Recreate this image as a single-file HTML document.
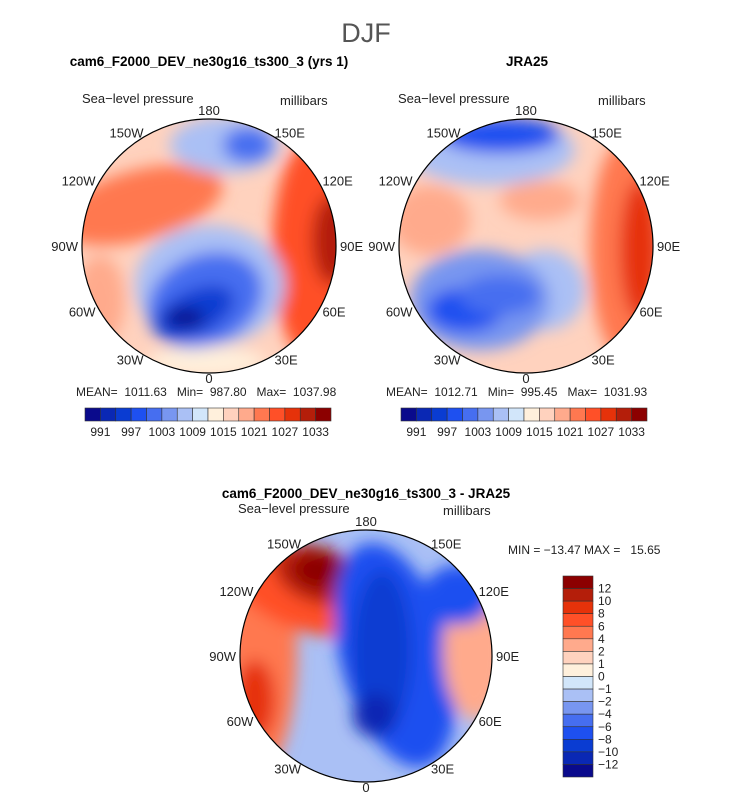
<!DOCTYPE html>
<html><head><meta charset="utf-8"><style>
body{margin:0;background:#fff;font-family:"Liberation Sans",sans-serif}
svg text{font-family:"Liberation Sans",sans-serif;white-space:pre}
</style></head><body>
<svg width="733" height="798" viewBox="0 0 733 798">
<defs>
<filter id="bl" x="-50%" y="-50%" width="200%" height="200%"><feGaussianBlur stdDeviation="8"/></filter>
<clipPath id="c1"><circle cx="209" cy="246" r="127"/></clipPath>
<clipPath id="c2"><circle cx="526" cy="246" r="127"/></clipPath>
<clipPath id="c3"><circle cx="366" cy="656" r="126"/></clipPath>
</defs>
<text x="366" y="42" font-size="27" text-anchor="middle" fill="#555" font-weight="100">DJF</text>
<text x="209" y="66" font-size="13.5" font-weight="bold" text-anchor="middle">cam6_F2000_DEV_ne30g16_ts300_3 (yrs 1)</text>
<text x="527" y="66" font-size="13.5" font-weight="bold" text-anchor="middle">JRA25</text>
<text x="366" y="498" font-size="13.5" font-weight="bold" text-anchor="middle">cam6_F2000_DEV_ne30g16_ts300_3 - JRA25</text>

<!-- map 1 -->
<g clip-path="url(#c1)">
<rect x="80" y="115" width="260" height="265" fill="#ffd2be"/>
<g filter="url(#bl)">
<ellipse cx="140" cy="205" rx="85" ry="35" fill="#ff7850" transform="rotate(-15 140 205)"/>
<ellipse cx="100" cy="300" rx="25" ry="45" fill="#ffaa8c"/>
<ellipse cx="206" cy="362" rx="60" ry="15" fill="#fff0dc"/>
<ellipse cx="312" cy="250" rx="40" ry="110" fill="#ff5028"/>
<ellipse cx="332" cy="240" rx="20" ry="45" fill="#b41e0a"/>
<ellipse cx="225" cy="145" rx="55" ry="28" fill="#aac0f5"/>
<ellipse cx="248" cy="145" rx="25" ry="18" fill="#466ef0"/>
<ellipse cx="210" cy="285" rx="75" ry="60" fill="#aac0f5"/>
<ellipse cx="205" cy="300" rx="60" ry="45" fill="#466ef0" transform="rotate(-25 205 300)"/>
<ellipse cx="195" cy="312" rx="42" ry="22" fill="#0a3cd2" transform="rotate(-25 195 312)"/>
<ellipse cx="185" cy="318" rx="20" ry="10" fill="#0a0a8c"/>
</g></g>
<circle cx="209" cy="246" r="127" fill="none" stroke="#000" stroke-width="1.2"/>

<!-- map 2 -->
<g clip-path="url(#c2)">
<rect x="396" y="115" width="262" height="265" fill="#ffd2be"/>
<g filter="url(#bl)">
<ellipse cx="430" cy="220" rx="40" ry="35" fill="#ffaa8c"/>
<ellipse cx="540" cy="200" rx="40" ry="20" fill="#ffaa8c"/>
<ellipse cx="625" cy="250" rx="35" ry="110" fill="#ff7850"/>
<ellipse cx="640" cy="250" rx="20" ry="70" fill="#e6320a"/>
<ellipse cx="490" cy="150" rx="85" ry="35" fill="#aac0f5"/>
<ellipse cx="500" cy="135" rx="60" ry="18" fill="#1e50f0"/>
<ellipse cx="545" cy="290" rx="40" ry="40" fill="#aac0f5"/>
<ellipse cx="480" cy="300" rx="70" ry="50" fill="#7896f0"/>
<ellipse cx="465" cy="310" rx="38" ry="22" fill="#1e50f0"/>
<ellipse cx="500" cy="295" rx="40" ry="20" fill="#466ef0"/>
</g></g>
<circle cx="526" cy="246" r="127" fill="none" stroke="#000" stroke-width="1.2"/>

<!-- map 3 -->
<g clip-path="url(#c3)">
<rect x="235" y="525" width="265" height="265" fill="#aac0f5"/>
<g filter="url(#bl)">
<ellipse cx="262" cy="650" rx="35" ry="120" fill="#ff7850"/>
<ellipse cx="255" cy="700" rx="20" ry="40" fill="#e6320a"/>
<ellipse cx="305" cy="590" rx="80" ry="40" fill="#ff5028" transform="rotate(20 305 590)"/>
<ellipse cx="318" cy="575" rx="45" ry="28" fill="#b41e0a" transform="rotate(20 318 575)"/>
<ellipse cx="322" cy="570" rx="28" ry="18" fill="#8c0000"/>
<ellipse cx="395" cy="655" rx="55" ry="115" fill="#1e50f0" transform="rotate(-15 395 655)"/>
<ellipse cx="382" cy="650" rx="30" ry="80" fill="#0a3cd2"/>
<ellipse cx="375" cy="715" rx="22" ry="22" fill="#0a28b4"/>
<ellipse cx="475" cy="650" rx="32" ry="70" fill="#ffaa8c"/>
<ellipse cx="458" cy="595" rx="35" ry="30" fill="#1e50f0"/>
</g></g>
<circle cx="366" cy="656" r="126" fill="none" stroke="#000" stroke-width="1.2"/>

<g font-size="13" fill="#222" id="labels"></g>
<g id="bars"></g>
</svg>
<script>
const colors=['#0a0a8c','#0a28b4','#0a3cd2','#1e50f0','#466ef0','#7896f0','#aac0f5','#d2e6fa','#fff0dc','#ffd2be','#ffaa8c','#ff7850','#ff5028','#e6320a','#b41e0a','#8c0000'];
const absTicks=['991','997','1003','1009','1015','1021','1027','1033'];
const diffTicks=['12','10','8','6','4','2','1','0','\u22121','\u22122','\u22124','\u22126','\u22128','\u221210','\u221212'];
const ns='http://www.w3.org/2000/svg';
const lab=document.getElementById('labels'),bars=document.getElementById('bars');
function t(x,y,s,anchor,size,name){const e=document.createElementNS(ns,'text');e.setAttribute('x',x);e.setAttribute('y',y);e.setAttribute('text-anchor',anchor||'middle');if(size)e.setAttribute('font-size',size);e.textContent=s;


lab.appendChild(e);}
function lon(cx,cy,r,name){
 const L=[['180',0],['150E',30],['120E',60],['90E',90],['60E',120],['30E',150],['0',180],['30W',210],['60W',240],['90W',270],['120W',300],['150W',330]];
 L.forEach(([s,a])=>{const rad=a*Math.PI/180;const sn=Math.sin(rad);const d=r+(a%180===0?7:4);
  const anc=Math.abs(sn)<0.1?'middle':(sn>0?'start':'end');
  t(cx+d*sn,cy-d*Math.cos(rad)+5+(a%180===0?(a===0?-2:-2):0),s,anc,null,name+'-lon-label');});
}
lon(209,246,127,'model');lon(526,246,127,'jra');lon(366,656,126,'diff');
t(82,103,'Sea\u2212level pressure','start',null,'model-subtitle');t(280,105,'millibars','start',null,'model-units');
t(398,103,'Sea\u2212level pressure','start',null,'jra-subtitle');t(598,105,'millibars','start',null,'jra-units');
t(238,513,'Sea\u2212level pressure','start',null,'diff-subtitle');t(443,515,'millibars','start',null,'diff-units');
t(76,396,'MEAN=  1011.63   Min=  987.80   Max=  1037.98','start',12,'model-stats');
t(386,396,'MEAN=  1012.71   Min=  995.45   Max=  1031.93','start',12,'jra-stats');
t(508,554,'MIN = \u221213.47 MAX =   15.65','start',12,'diff-stats');
function hbar(x0,name){const w=246/colors.length;
 colors.forEach((c,i)=>{const r=document.createElementNS(ns,'rect');r.setAttribute('x',x0+i*w);r.setAttribute('y',408);r.setAttribute('width',w);r.setAttribute('height',13);r.setAttribute('fill',c);r.setAttribute('stroke','#333');r.setAttribute('stroke-width','0.6');
 
 
 bars.appendChild(r);});
 absTicks.forEach((s,i)=>t(x0+(2*i+1)*w,436,s,'middle',12,name+'-tick'));}
hbar(85,'model-colorbar');hbar(401,'jra-colorbar');
const h=201/colors.length;
colors.slice().reverse().forEach((c,i)=>{const r=document.createElementNS(ns,'rect');r.setAttribute('x',563);r.setAttribute('y',576+i*h);r.setAttribute('width',30);r.setAttribute('height',h);r.setAttribute('fill',c);r.setAttribute('stroke','#333');r.setAttribute('stroke-width','0.6');


bars.appendChild(r);});
diffTicks.forEach((s,i)=>t(598,576+(i+1)*h+4,s,'start',12,'diff-colorbar-tick'));
</script>
</body></html>
